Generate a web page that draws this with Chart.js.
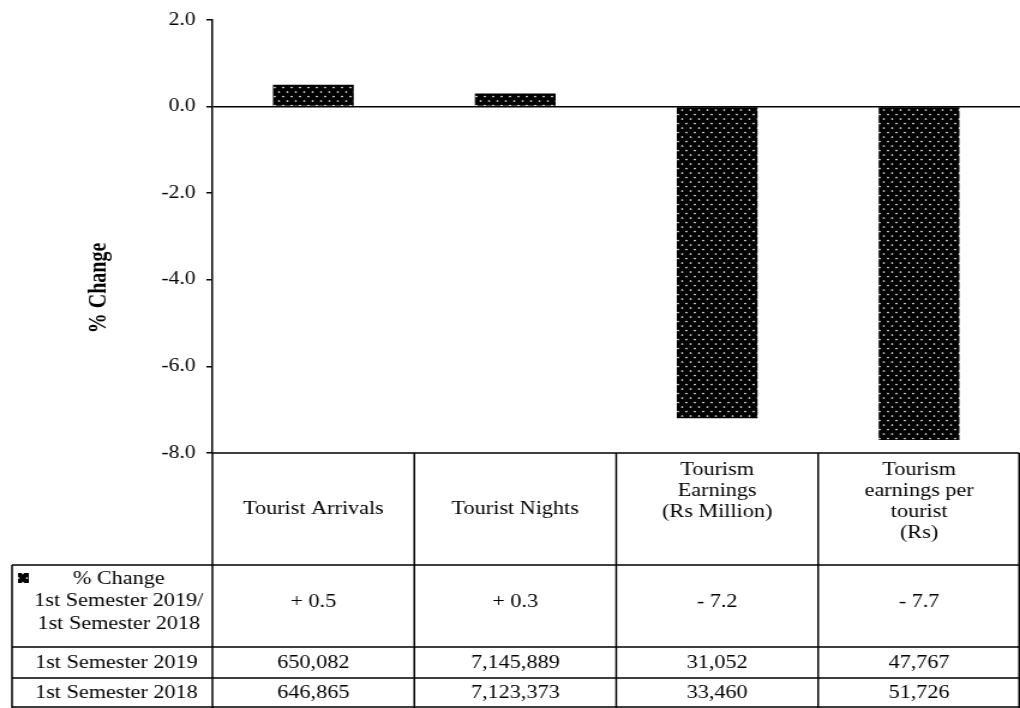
<!DOCTYPE html>
<html>
<head>
<meta charset="utf-8">
<script src="https://cdn.jsdelivr.net/npm/chart.js@4.4.0/dist/chart.umd.min.js"></script>
<style>
  html, body { margin: 0; padding: 0; background: #fff; overflow: hidden; }
  /* the reference is a horizontally stretched excel export, so stretch the canvas the same way */
  #chart { transform: scaleX(1.2); transform-origin: 0 0; }
</style>
</head>
<body>
<canvas id="chart" width="850" height="708"></canvas>
<script>
// data
const categories = [
  ['Tourist Arrivals'],
  ['Tourist Nights'],
  ['Tourism', 'Earnings', '(Rs Million)'],
  ['Tourism', 'earnings per', 'tourist', '(Rs)']
];
const pctChange = [0.5, 0.3, -7.2, -7.7];
const sem2019 = [650082, 7145889, 31052, 47767];
const sem2018 = [646865, 7123373, 33460, 51726];
const seriesLabel = ['% Change', '1st Semester 2019/', '1st Semester 2018'];
const rowLabels = ['1st Semester 2019', '1st Semester 2018'];
const yTicks = { min: -8, max: 2, step: 2 };

const FONT = '"Times New Roman", "Liberation Serif", serif';

// black fill with white dots, like the excel pattern
function dotPattern() {
  const c = document.createElement('canvas');
  c.width = 7; c.height = 9;
  const g = c.getContext('2d');
  g.fillStyle = '#000';
  g.fillRect(0, 0, 7, 9);
  g.fillStyle = '#fff';
  g.beginPath(); g.arc(1.5, 2, 0.85, 0, Math.PI * 2); g.fill();
  g.beginPath(); g.arc(5, 6.5, 0.85, 0, Math.PI * 2); g.fill();
  return g.createPattern(c, 'repeat');
}
const pattern = dotPattern();

function fmtPct(v) {
  return (v >= 0 ? '+ ' : '- ') + Math.abs(v).toFixed(1);
}
function fmtNum(v) {
  return v.toLocaleString('en-US');
}

// data table under the plot + the y title
const tablePlugin = {
  id: 'dataTable',
  afterDraw(chart) {
    const ctx = chart.ctx;
    const area = chart.chartArea;
    const xs = chart.scales.x;
    const n = categories.length;
    const colW = (area.right - area.left) / n;
    const top = area.bottom;
    const headBottom = 565;
    const rows = [headBottom, 647, 678, 707];
    const tableLeft = 10;
    const right = area.right - 0.75;

    ctx.save();
    ctx.strokeStyle = '#000';
    ctx.lineWidth = 1.5;

    ctx.beginPath();
    ctx.moveTo(area.left, top); ctx.lineTo(right, top);
    rows.forEach(y => { ctx.moveTo(tableLeft, y); ctx.lineTo(right, y); });
    for (let i = 0; i <= n; i++) {
      const x = i === n ? right : area.left + i * colW;
      ctx.moveTo(x, top); ctx.lineTo(x, 708);
    }
    ctx.moveTo(tableLeft, headBottom); ctx.lineTo(tableLeft, 708);
    ctx.stroke();

    ctx.fillStyle = '#000';
    ctx.font = '18.5px ' + FONT;
    ctx.textAlign = 'center';
    ctx.textBaseline = 'middle';

    // header labels
    categories.forEach((lines, i) => {
      const cx = xs.getPixelForValue(i);
      if (lines.length === 1) {
        ctx.fillText(lines[0], cx, (top + headBottom) / 2);
      } else {
        lines.forEach((t, j) => ctx.fillText(t, cx, top + 17 + j * 21));
      }
    });

    // % change row with legend key
    const legY = [579, 601, 624];
    seriesLabel.forEach((t, j) => ctx.fillText(t, 99, legY[j]));
    ctx.fillStyle = pattern;
    ctx.fillRect(15, 573, 9, 10);
    ctx.fillStyle = '#000';
    pctChange.forEach((v, i) => ctx.fillText(fmtPct(v), xs.getPixelForValue(i), 602));

    // value rows
    [sem2019, sem2018].forEach((arr, r) => {
      const cy = (rows[r + 1] + rows[r + 2]) / 2 + 1;
      ctx.fillText(rowLabels[r], 97, cy);
      arr.forEach((v, i) => ctx.fillText(fmtNum(v), xs.getPixelForValue(i), cy));
    });

    // axis title
    ctx.font = 'bold 20px ' + FONT;
    ctx.translate(83, 288);
    ctx.rotate(-Math.PI / 2);
    ctx.fillText('% Change', 0, 0);
    ctx.restore();
  }
};

new Chart(document.getElementById('chart'), {
  type: 'bar',
  data: {
    labels: categories.map(l => l.join(' ')),
    datasets: [{
      label: seriesLabel.join(' '),
      data: pctChange,
      backgroundColor: pattern,
      borderWidth: 0,
      categoryPercentage: 1,
      barPercentage: 0.4
    }]
  },
  options: {
    responsive: false,
    animation: false,
    devicePixelRatio: 1,
    layout: { padding: { top: 18, bottom: 255, left: 0, right: 0 } },
    plugins: {
      legend: { display: false },
      tooltip: { enabled: false }
    },
    scales: {
      x: { display: false },
      y: {
        min: yTicks.min,
        max: yTicks.max,
        afterFit: s => { s.width = 177; },
        ticks: {
          stepSize: yTicks.step,
          padding: 9,
          color: '#000',
          font: { family: FONT, size: 18 },
          callback: v => v.toFixed(1)
        },
        grid: {
          color: c => (c.tick && c.tick.value === 0 ? '#000' : 'rgba(0,0,0,0)'),
          tickColor: '#000',
          tickLength: 5,
          lineWidth: 1.5
        },
        border: { display: true, color: '#000', width: 1.5 }
      }
    }
  },
  plugins: [tablePlugin]
});
</script>
</body>
</html>
